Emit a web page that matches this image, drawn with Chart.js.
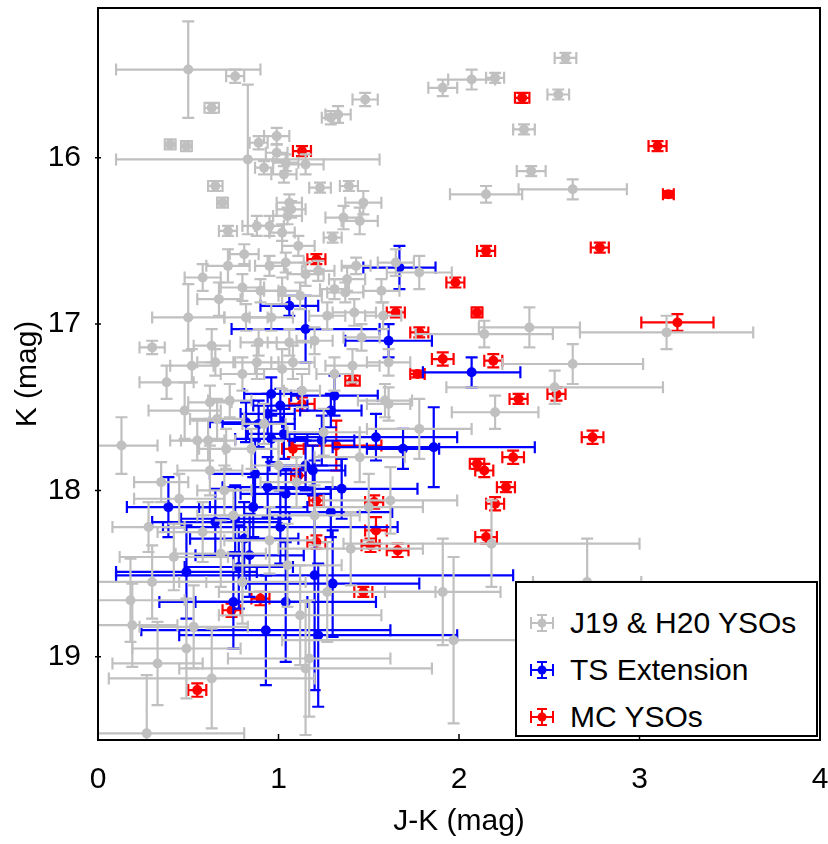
<!DOCTYPE html>
<html><head><meta charset="utf-8">
<script src="https://cdn.jsdelivr.net/npm/chart.js@4/dist/chart.umd.min.js"></script>
<style>
html,body{margin:0;padding:0;background:#fff;}
#wrap{position:relative;width:828px;height:844px;}
#legend{position:absolute;left:515px;top:581px;width:299px;height:152px;border:2px solid #000;background:#fff;font-family:"Liberation Sans",Arial,sans-serif;font-size:30px;color:#000;}
.row{position:absolute;left:0;height:40px;display:flex;align-items:center;}
.row svg{margin-left:12px;margin-right:15px;}
</style></head>
<body><div id="wrap"><canvas id="c" width="828" height="844"></canvas>
<div id="legend">
<div class="row" style="top:20px"><svg width="26" height="22"><g stroke="#c0c0c0" stroke-width="2" fill="#c0c0c0"><line x1="2" y1="11" x2="24" y2="11"/><line x1="2" y1="5" x2="2" y2="17"/><line x1="24" y1="5" x2="24" y2="17"/><line x1="13" y1="3" x2="13" y2="19"/><line x1="8" y1="3" x2="18" y2="3"/><line x1="8" y1="19" x2="18" y2="19"/><circle cx="13" cy="11" r="4.5" stroke="none"/></g></svg><span>J19 &amp; H20 YSOs</span></div>
<div class="row" style="top:67px"><svg width="26" height="22"><g stroke="#0000ff" stroke-width="2" fill="#0000ff"><line x1="2" y1="11" x2="24" y2="11"/><line x1="2" y1="5" x2="2" y2="17"/><line x1="24" y1="5" x2="24" y2="17"/><line x1="13" y1="3" x2="13" y2="19"/><line x1="8" y1="3" x2="18" y2="3"/><line x1="8" y1="19" x2="18" y2="19"/><circle cx="13" cy="11" r="4.5" stroke="none"/></g></svg><span>TS Extension</span></div>
<div class="row" style="top:114px"><svg width="26" height="22"><g stroke="#ff0000" stroke-width="2" fill="#ff0000"><line x1="2" y1="11" x2="24" y2="11"/><line x1="2" y1="5" x2="2" y2="17"/><line x1="24" y1="5" x2="24" y2="17"/><line x1="13" y1="3" x2="13" y2="19"/><line x1="8" y1="3" x2="18" y2="3"/><line x1="8" y1="19" x2="18" y2="19"/><circle cx="13" cy="11" r="4.5" stroke="none"/></g></svg><span>MC YSOs</span></div>
</div></div>
<script>
// ---- data (J-K, K, errors) ----
const seriesNames = ["J19 & H20 YSOs", "TS Extension", "MC YSOs"];
const xTicks = [0, 1, 2, 3, 4];
const yTicks = [16, 17, 18, 19];

const grayJK  = [0.50,0.76,0.63,0.40,0.49,0.83,0.89,0.99,0.99,1.04,1.15,0.92,1.03,0.65,0.69,1.23,1.39,1.47,1.36,1.45,1.06,1.07,1.05,0.88,0.95,1.02,0.72,1.11,1.30,1.91,1.48,1.33,1.29,2.59,2.07,2.20,2.55,2.36,2.40,2.15,2.63,0.81,
 0.30,0.50,0.67,0.80,0.90,0.95,1.04,0.63,0.80,0.65,0.48,0.88,1.02,0.89,0.82,0.96,1.43,1.65,1.78,1.38,1.31,1.37,1.42,1.58,2.14,2.39,3.15,2.63,2.53,2.20,1.78,1.41,1.61,1.59,1.61,1.31,1.13,1.20,1.27,1.12,1.02,0.72,0.58,1.22,1.15,1.06,1.08,0.62,0.73,0.61,0.71,1.46,1.57,
 0.13,0.35,0.45,0.28,0.55,0.66,0.62,0.70,0.75,0.58,0.68,0.85,0.92,1.00,1.10,1.20,0.95,1.05,0.80,1.62,2.18,1.91,1.97,0.19,0.33,0.49,0.53,0.63,1.15,1.17,0.27,0.18,1.27,2.71,0.42,1.40,1.45,1.25,0.38,0.52,1.50,0.30,1.12];
const grayK   = [15.47,15.51,15.70,15.92,15.93,16.01,15.91,15.87,15.97,16.03,16.04,16.06,16.10,16.17,16.27,16.18,16.17,16.27,16.36,16.38,16.27,16.31,16.35,16.41,16.41,16.45,16.44,16.53,16.48,15.58,15.65,15.74,15.76,15.40,15.53,15.52,15.62,15.83,16.08,16.22,16.19,16.58,
 17.14,16.96,16.85,16.78,16.80,16.65,16.63,17.13,17.30,17.23,17.52,17.23,17.27,17.11,16.96,16.96,16.65,16.63,16.69,16.73,16.79,16.81,16.93,16.95,17.06,17.02,17.05,17.24,17.38,17.53,17.63,17.25,17.23,17.46,17.48,17.30,17.40,17.10,16.95,16.83,16.80,16.65,16.72,16.68,16.70,17.11,17.23,17.47,17.46,17.70,17.75,17.08,16.80,
 17.73,17.95,18.05,18.22,17.70,17.57,17.88,18.00,18.15,18.25,18.38,17.75,17.60,17.85,17.95,18.15,18.30,18.45,18.55,18.06,18.32,18.61,18.90,18.81,19.04,18.95,18.82,19.13,19.07,19.01,19.46,18.66,18.61,18.55,18.40,18.35,17.80,17.65,17.35,17.25,18.10,18.55,18.75];
const grayJKErr = [0.40,0.05,0.04,0.03,0.03,0.73,0.05,0.07,0.06,0.07,0.10,0.05,0.07,0.04,0.03,0.06,0.05,0.10,0.10,0.10,0.07,0.08,0.08,0.08,0.08,0.07,0.05,0.09,0.05,0.08,0.07,0.07,0.05,0.06,0.13,0.05,0.06,0.06,0.08,0.20,0.30,0.08,
 0.07,0.20,0.12,0.12,0.10,0.08,0.10,0.10,0.12,0.10,0.20,0.12,0.15,0.10,0.12,0.12,0.08,0.10,0.18,0.10,0.08,0.10,0.12,0.10,0.38,0.28,0.48,0.39,0.60,0.24,0.29,0.15,0.12,0.15,0.12,0.10,0.10,0.10,0.10,0.12,0.10,0.12,0.10,0.09,0.10,0.12,0.12,0.12,0.12,0.15,0.15,0.10,0.10,
 0.20,0.15,0.25,0.20,0.15,0.15,0.18,0.15,0.20,0.25,0.25,0.15,0.12,0.15,0.20,0.25,0.25,0.30,0.35,0.37,0.82,0.32,0.95,0.25,0.25,0.30,0.30,0.57,0.70,0.45,0.54,0.30,0.60,0.30,0.30,0.40,0.25,0.20,0.15,0.12,0.30,0.30,0.45];
const grayKErr = [0.29,0.04,0.03,0.03,0.03,0.45,0.04,0.05,0.05,0.05,0.06,0.04,0.05,0.03,0.03,0.03,0.03,0.07,0.07,0.08,0.05,0.05,0.05,0.06,0.06,0.05,0.03,0.06,0.03,0.05,0.04,0.05,0.04,0.03,0.06,0.03,0.03,0.03,0.03,0.05,0.06,0.06,
 0.04,0.20,0.10,0.08,0.07,0.06,0.06,0.10,0.10,0.08,0.17,0.10,0.12,0.08,0.08,0.08,0.05,0.08,0.10,0.07,0.06,0.06,0.08,0.08,0.08,0.12,0.10,0.12,0.10,0.10,0.18,0.10,0.08,0.10,0.10,0.10,0.10,0.08,0.08,0.08,0.08,0.10,0.08,0.06,0.07,0.08,0.10,0.10,0.10,0.12,0.12,0.08,0.07,
 0.17,0.12,0.15,0.15,0.12,0.12,0.15,0.15,0.15,0.18,0.20,0.12,0.12,0.15,0.15,0.18,0.20,0.25,0.25,0.20,0.26,0.32,0.50,0.25,0.25,0.30,0.25,0.30,0.40,0.35,0.35,0.25,0.30,0.26,0.20,0.22,0.15,0.14,0.10,0.10,0.20,0.22,0.30];

const blueJK  = [1.67,1.06,1.15,1.61,2.07,1.31,1.29,1.54,1.69,1.86,1.35,1.29,1.30,1.20,0.49,1.22,0.75,1.04,0.93,0.78,0.82,0.89,0.94,1.01,1.03,0.96,0.87,0.39,0.65,0.76,0.86,1.01,0.81,0.84,0.94,1.04,1.15,1.19,1.24,0.96];
const blueK   = [16.66,16.89,17.03,17.10,17.29,17.43,17.52,17.68,17.75,17.74,17.99,18.13,18.56,18.51,18.49,18.87,18.67,18.67,18.84,18.46,17.59,17.60,17.54,17.49,17.66,17.69,17.90,18.10,18.19,18.17,18.10,18.22,18.29,18.39,17.98,18.02,17.85,17.88,17.70,17.42];
const blueJKErr = [0.20,0.16,0.41,0.24,0.27,0.24,0.17,0.45,0.20,0.56,0.42,0.34,0.48,1.10,0.39,0.77,0.41,0.50,0.69,0.30,0.20,0.20,0.15,0.15,0.20,0.20,0.25,0.23,0.35,0.30,0.30,0.65,0.30,0.30,0.25,0.25,0.20,0.18,0.18,0.15];
const blueKErr  = [0.13,0.06,0.20,0.10,0.09,0.12,0.10,0.14,0.12,0.24,0.18,0.15,0.32,0.69,0.28,0.43,0.28,0.36,0.33,0.25,0.12,0.14,0.12,0.10,0.15,0.14,0.20,0.18,0.20,0.20,0.18,0.22,0.22,0.25,0.18,0.15,0.15,0.15,0.15,0.10];

const redJK  = [2.35,1.13,3.10,3.16,2.15,2.78,1.21,1.98,1.65,2.10,3.21,1.78,1.91,2.19,1.77,1.41,2.33,2.54,1.13,2.74,2.30,1.08,1.32,2.10,2.14,2.26,1.11,2.20,1.21,1.53,2.15,1.54,1.51,1.66,1.21,1.47,0.90,0.74,0.55];
const redK   = [15.64,15.96,15.93,16.22,16.56,16.54,16.61,16.75,16.93,16.93,16.99,17.05,17.21,17.22,17.30,17.34,17.45,17.42,17.48,17.68,17.80,17.75,17.73,17.84,17.88,17.98,17.91,18.08,18.06,18.07,18.28,18.24,18.33,18.36,18.31,18.61,18.65,18.72,19.20];
const redJKErr = [0.04,0.05,0.05,0.03,0.05,0.05,0.05,0.05,0.05,0.03,0.20,0.05,0.06,0.05,0.04,0.04,0.05,0.05,0.07,0.06,0.06,0.06,0.25,0.04,0.05,0.05,0.04,0.05,0.04,0.05,0.06,0.06,0.05,0.06,0.05,0.05,0.05,0.05,0.05];
const redKErr  = [0.03,0.03,0.03,0.02,0.03,0.03,0.03,0.03,0.03,0.03,0.05,0.03,0.04,0.04,0.02,0.03,0.03,0.04,0.04,0.04,0.04,0.05,0.15,0.03,0.04,0.03,0.04,0.04,0.03,0.04,0.04,0.08,0.04,0.04,0.04,0.03,0.04,0.04,0.04];

function pts(xs, ys, xe, ye){ return xs.map((v,i)=>({x:v, y:ys[i], xe:xe[i], ye:ye[i]})); }

const FONT = '"Liberation Sans", Arial, sans-serif';
const colors = ['#c0c0c0', '#0000ff', '#ff0000'];

const errorBars = {
  id: 'errorBars',
  beforeDatasetDraw(chart, args) {
    const ds = chart.data.datasets[args.index];
    const ctx = chart.ctx, xs = chart.scales.x, ys = chart.scales.y, a = chart.chartArea;
    ctx.save();
    ctx.beginPath(); ctx.rect(a.left, a.top, a.right - a.left, a.bottom - a.top); ctx.clip();
    ctx.strokeStyle = ds.borderColor; ctx.lineWidth = 2.2;
    const cap = 6;
    ds.data.forEach(p => {
      const px = xs.getPixelForValue(p.x), py = ys.getPixelForValue(p.y);
      const x0 = xs.getPixelForValue(p.x - p.xe), x1 = xs.getPixelForValue(p.x + p.xe);
      const y0 = ys.getPixelForValue(p.y - p.ye), y1 = ys.getPixelForValue(p.y + p.ye);
      ctx.beginPath();
      ctx.moveTo(x0, py); ctx.lineTo(x1, py);
      ctx.moveTo(x0, py - cap); ctx.lineTo(x0, py + cap);
      ctx.moveTo(x1, py - cap); ctx.lineTo(x1, py + cap);
      ctx.moveTo(px, y0); ctx.lineTo(px, y1);
      ctx.moveTo(px - cap, y0); ctx.lineTo(px + cap, y0);
      ctx.moveTo(px - cap, y1); ctx.lineTo(px + cap, y1);
      ctx.stroke();
    });
    ctx.restore();
  },
  afterDraw(chart) {
    const ctx = chart.ctx, a = chart.chartArea, xs = chart.scales.x, ys = chart.scales.y;
    ctx.save();
    ctx.strokeStyle = '#000'; ctx.lineWidth = 2;
    ctx.strokeRect(a.left, a.top, a.right - a.left, a.bottom - a.top);
    ctx.lineWidth = 1.5;
    ctx.beginPath();
    xTicks.forEach(t => { const px = xs.getPixelForValue(t); ctx.moveTo(px, a.bottom); ctx.lineTo(px, a.bottom - 6); });
    yTicks.forEach(t => { const py = ys.getPixelForValue(t); ctx.moveTo(a.left - 3, py); ctx.lineTo(a.left + 3, py); });
    ctx.stroke();
    ctx.restore();
  }
};

new Chart(document.getElementById('c'), {
  type: 'scatter',
  data: {
    datasets: [
      {label: seriesNames[0], data: pts(grayJK, grayK, grayJKErr, grayKErr), backgroundColor: colors[0], borderColor: colors[0], pointRadius: 5, pointBorderWidth: 0},
      {label: seriesNames[1], data: pts(blueJK, blueK, blueJKErr, blueKErr), backgroundColor: colors[1], borderColor: colors[1], pointRadius: 5, pointBorderWidth: 0},
      {label: seriesNames[2], data: pts(redJK, redK, redJKErr, redKErr), backgroundColor: colors[2], borderColor: colors[2], pointRadius: 5, pointBorderWidth: 0}
    ]
  },
  options: {
    responsive: false, animation: false, devicePixelRatio: 1,
    layout: {padding: {top: 8, right: 8, left: 0, bottom: 0}},
    plugins: {legend: {display: false}, tooltip: {enabled: false}},
    scales: {
      x: {
        type: 'linear', min: 0, max: 4,
        afterFit: s => { s.height = 104; s.paddingLeft = 0; s.paddingRight = 0; },
        afterBuildTicks: s => { s.ticks = xTicks.map(v => ({value: v})); },
        grid: {display: false}, border: {display: false},
        ticks: {color: '#000', font: {family: FONT, size: 30}, padding: 14, maxRotation: 0},
        title: {display: true, text: 'J-K (mag)', color: '#000', font: {family: FONT, size: 30}, padding: {top: 0, bottom: 4}}
      },
      y: {
        type: 'linear', min: 15.1, max: 19.5, reverse: true,
        afterFit: s => { s.width = 98; s.paddingTop = 0; s.paddingBottom = 0; },
        afterBuildTicks: s => { s.ticks = yTicks.map(v => ({value: v})); },
        grid: {display: false}, border: {display: false},
        ticks: {color: '#000', font: {family: FONT, size: 30}, padding: 9},
        title: {display: true, text: 'K (mag)', color: '#000', font: {family: FONT, size: 30}, padding: {top: 10, bottom: 0}}
      }
    }
  },
  plugins: [errorBars]
});
</script></body></html>
